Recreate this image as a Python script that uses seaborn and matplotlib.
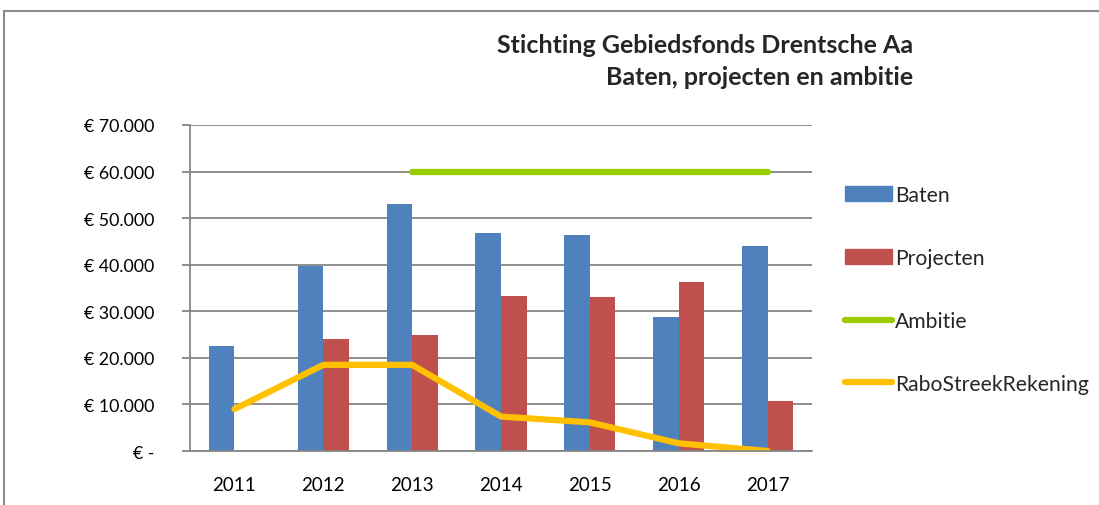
import matplotlib.pyplot as plt
import matplotlib.patches as mpatches
from matplotlib.lines import Line2D
from matplotlib.ticker import FuncFormatter, FixedLocator
import pandas as pd
import seaborn as sns

years = ["2011", "2012", "2013", "2014", "2015", "2016", "2017"]
baten = [22600, 39800, 53000, 46750, 46300, 28850, 43950]
projecten = [None, 24050, 25000, 33350, 33150, 36200, 10800]
ambitie = [None, None, 60000, 60000, 60000, 60000, 60000]
rabo = [9000, 18500, 18500, 7400, 6150, 1650, 0]

BLUE = "#4f81bd"
RED = "#c0504d"
GREEN = "#99cc00"
YELLOW = "#ffc000"
GRID = "#868686"

sns.set_style("white")
plt.rcParams["font.family"] = ["Lato", "DejaVu Sans"]

bars = pd.DataFrame({
    "jaar": years * 2,
    "reeks": ["Baten"] * len(years) + ["Projecten"] * len(years),
    "bedrag": baten + projecten,
}).dropna()

fig = plt.figure(figsize=(10.99, 5.06), dpi=100)
ax = fig.add_axes([0.1729, 0.1067, 0.566, 0.6443])

sns.barplot(data=bars, x="jaar", y="bedrag", hue="reeks", order=years,
            hue_order=["Baten", "Projecten"], palette=[BLUE, RED],
            width=0.575, gap=0, saturation=1, edgecolor="none", ax=ax,
            legend=False)

pos = list(range(len(years)))
lines = pd.DataFrame({"pos": pos, "ambitie": ambitie, "rabo": rabo})
sns.lineplot(data=lines.dropna(subset=["ambitie"]), x="pos", y="ambitie",
             color=GREEN, linewidth=4.5, solid_capstyle="round", ax=ax)
sns.lineplot(data=lines, x="pos", y="rabo", color=YELLOW, linewidth=4.5,
             solid_capstyle="round", ax=ax)

ax.set_xlim(-0.5, len(years) - 0.5)
ax.set_ylim(0, 70000)
ax.set_yticks(range(0, 70001, 10000))
ax.yaxis.set_major_formatter(FuncFormatter(
    lambda v, _: "€ -" if v == 0 else "€ " + f"{int(v):,}".replace(",", ".")))
ax.grid(axis="y", color=GRID, linewidth=1.3)
ax.set_axisbelow(True)
ax.set_xlabel("")
ax.set_ylabel("")

for side in ["top", "right"]:
    ax.spines[side].set_visible(False)
for side in ["left", "bottom"]:
    ax.spines[side].set_color(GRID)
    ax.spines[side].set_linewidth(1.3)

ax.xaxis.set_minor_locator(FixedLocator([p - 0.5 for p in range(len(years) + 1)]))
ax.tick_params(axis="x", which="major", length=0, pad=18, labelsize=13.5,
               labelcolor="#000000")
ax.tick_params(axis="x", which="minor", length=6, width=1.3, color=GRID,
               direction="out")
ax.tick_params(axis="y", length=6, width=1.3, color=GRID, direction="out",
               pad=20, labelsize=12.8, labelcolor="#000000")
ax.tick_params(left=True, bottom=True)

fig.text(0.831, 0.91, "Stichting Gebiedsfonds Drentsche Aa", ha="right",
         va="center", fontsize=18, fontweight="bold")
fig.text(0.831, 0.847, "Baten, projecten en ambitie", ha="right",
         va="center", fontsize=18, fontweight="bold")

handles = [
    mpatches.Patch(color=BLUE, label="Baten"),
    mpatches.Patch(color=RED, label="Projecten"),
    Line2D([], [], color=GREEN, linewidth=4.5, solid_capstyle="round", label="Ambitie"),
    Line2D([], [], color=YELLOW, linewidth=4.5, solid_capstyle="round",
           label="RaboStreekRekening"),
]
fig.legend(handles=handles, loc="upper left", bbox_to_anchor=(0.769, 0.632),
           frameon=False, fontsize=15.2, handlelength=2.2, handleheight=0.7,
           handletextpad=0.15, labelspacing=2.03, borderpad=0, borderaxespad=0)

fig.add_artist(mpatches.Rectangle((0.004, -0.05), 1.1, 1.026,
                                  transform=fig.transFigure, fill=False,
                                  edgecolor="#8c8c8c", linewidth=1.5))

fig.savefig("out.png", dpi=100)
